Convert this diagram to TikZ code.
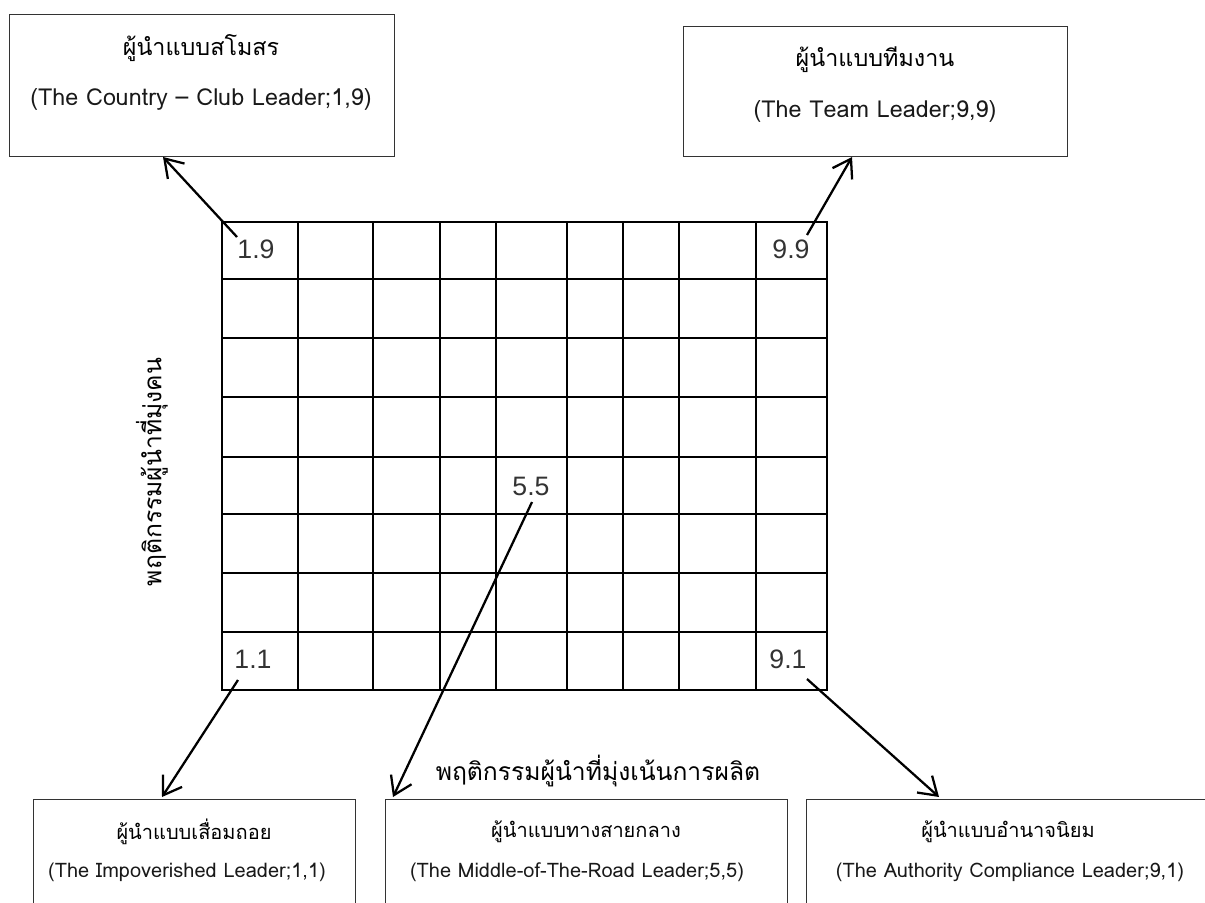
\documentclass[tikz,border=0pt]{standalone}
\usepackage{fontspec}
\setmainfont{Liberation Sans}
\newfontfamily\thaifont[Script=Thai]{Loma}
\usetikzlibrary{arrows.meta,fit}
\tikzset{
  boxnode/.style={draw=black!80, line width=0.7pt, inner sep=0pt, rectangle},
  gridline/.style={line width=1.7pt, black},
  arr/.style={line width=1.7pt, -{Straight Barb[length=13pt,width=17pt,line width=1.7pt]}},
  thaitxt/.style={font=\thaifont\fontsize{17.5}{20}\selectfont, inner sep=0pt},
  entxt/.style={font=\thaifont\fontsize{17.5}{20}\selectfont, inner sep=0pt, text=black!90},
  thaismall/.style={font=\thaifont\fontsize{15}{18}\selectfont, inner sep=0pt},
  ensmall/.style={font=\thaifont\fontsize{15}{18}\selectfont, inner sep=0pt, text=black!90},
  axistxt/.style={font=\thaifont\fontsize{18.5}{22}\selectfont, inner sep=0pt},
  numtxt/.style={font=\fontsize{20}{22}\selectfont, inner sep=0pt, text=black!80}
}
\begin{document}
\begin{tikzpicture}[x=0.75pt,y=-0.75pt]
\useasboundingbox (0,0) rectangle (1205,902);
% grid
\draw[gridline] (222,222) rectangle (827,690);
\foreach \gx in {298,373,440,496,567,623,679,756}{\draw[gridline] (\gx,222) -- (\gx,690);}
\foreach \gy in {279,338,397,457,514,573,632}{\draw[gridline] (222,\gy) -- (827,\gy);}
% labels in grid
\node[numtxt] (l19) at (256,249) {1.9};
\node[numtxt] (l99) at (791,249) {9.9};
\node[numtxt] (l55) at (531,486) {5.5};
\node[numtxt] (l11) at (253,659) {1.1};
\node[numtxt] (l91) at (788,659) {9.1};
% boxes
\node[boxnode, fit={(9,14) (394,156)}] (tl) {};
\node[boxnode, fit={(683,26) (1067,156)}] (tr) {};
\node[boxnode, fit={(33,799) (355,912)}] (bl) {};
\node[boxnode, fit={(385,799) (787,912)}] (bm) {};
\node[boxnode, fit={(806,799) (1215,912)}] (br) {};
% box texts
\node[thaitxt] (tlth) at (201,48) {ผู้นำแบบสโมสร};
\node[entxt] (tlen) at (201,99) {(The Country – Club Leader;1,9)};
\node[thaitxt] (trth) at (875,60) {ผู้นำแบบทีมงาน};
\node[entxt] (tren) at (875,111) {(The Team Leader;9,9)};
\node[thaismall] (blth) at (194,832) {ผู้นำแบบเสื่อมถอย};
\node[ensmall] (blen) at (187,872) {(The Impoverished Leader;1,1)};
\node[thaismall] (bmth) at (586,832) {ผู้นำแบบทางสายกลาง};
\node[ensmall] (bmen) at (577,872) {(The Middle-of-The-Road Leader;5,5)};
\node[thaismall] (brth) at (1008,832) {ผู้นำแบบอำนาจนิยม};
\node[ensmall] (bren) at (1010,872) {(The Authority Compliance Leader;9,1)};
% axis labels
\node[axistxt] (xax) at (598,771) {พฤติกรรมผู้นำที่มุ่งเน้นการผลิต};
\node[axistxt, rotate=90] (yax) at (152,472) {พฤติกรรมผู้นำที่มุ่งคน};
% arrow end points
\coordinate (s19) at (237,237);
\coordinate (s99) at (807,235);
\coordinate (s55) at (532,502);
\coordinate (s11) at (238,680);
\coordinate (s91) at (807,679);
\coordinate (e19) at (163,157);
\coordinate (e99) at (852,157);
\coordinate (e55) at (393,797);
\coordinate (e11) at (162,797);
\coordinate (e91) at (939,797);
\draw[arr] (s19) -- (e19);
\draw[arr] (s99) -- (e99);
\draw[arr] (s55) -- (e55);
\draw[arr] (s11) -- (e11);
\draw[arr] (s91) -- (e91);
\end{tikzpicture}
\end{document}
